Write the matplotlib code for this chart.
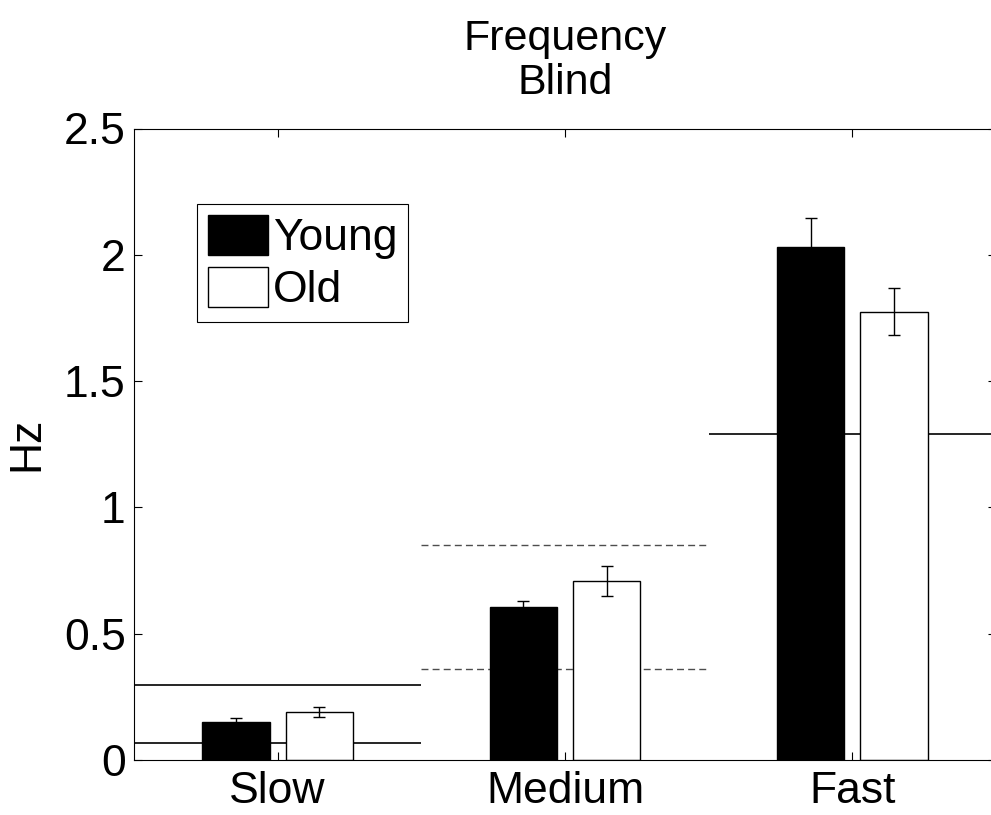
import numpy as np
import matplotlib
matplotlib.use("Agg")
import matplotlib.pyplot as plt

# dados
conditions = ["Slow", "Medium", "Fast"]
young_mean = [0.150, 0.606, 2.031]
young_err = [0.016, 0.023, 0.115]
old_mean = [0.190, 0.709, 1.774]
old_err = [0.020, 0.060, 0.093]
# faixas de referência por condição (limite inferior, limite superior)
band_low = [0.067, 0.360, 1.291]
band_high = [0.297, 0.851, None]

yticks = [0, 0.5, 1, 1.5, 2, 2.5]
ytick_labels = ["0", "0.5", "1", "1.5", "2", "2.5"]

plt.rcParams['font.family'] = ['Liberation Sans', 'DejaVu Sans']

fig = plt.figure(figsize=(9.91, 8.15), dpi=100)
ax = fig.add_axes([134 / 991, 1 - 760 / 815, 862 / 991, 631.5 / 815])

x = np.arange(1, len(conditions) + 1)
largura = 0.234
desloc = 0.145

# faixas horizontais atrás das barras
for i, xc in enumerate(x):
    estilo = dict(color='black', lw=1.2, zorder=1)
    if i == 1:
        estilo = dict(color='0.3', lw=1.0, ls=(0, (5, 3)), zorder=1)
    ax.hlines(band_low[i], xc - 0.5, xc + 0.5, **estilo)
    if band_high[i] is not None:
        ax.hlines(band_high[i], xc - 0.5, xc + 0.5, **estilo)

ax.bar(x - desloc, young_mean, largura, color='black', edgecolor='black',
       linewidth=1, label='Young', zorder=2)
ax.bar(x + desloc, old_mean, largura, color='white', edgecolor='black',
       linewidth=1, label='Old', zorder=2)
ax.errorbar(x - desloc, young_mean, yerr=young_err, fmt='none', ecolor='black',
            elinewidth=1, capsize=4, capthick=1, zorder=3)
ax.errorbar(x + desloc, old_mean, yerr=old_err, fmt='none', ecolor='black',
            elinewidth=1, capsize=4, capthick=1, zorder=3)

ax.set_xlim(0.5, 3.5)
ax.set_ylim(0, 2.5)
ax.set_xticks(x)
ax.set_xticklabels(conditions, fontsize=32)
ax.set_yticks(yticks)
ax.set_yticklabels(ytick_labels, fontsize=32)
ax.tick_params(axis='both', direction='in', top=True, right=True,
               length=5.5, width=0.8, color='black')
ax.tick_params(axis='x', pad=8)
ax.tick_params(axis='y', pad=6)
for s in ax.spines.values():
    s.set_linewidth(0.8)
    s.set_color('black')

ax.set_ylabel('Hz', fontsize=32)
ax.yaxis.set_label_coords((47 - 134) / 862, 0.5)

ax.set_title('Frequency\nBlind', fontsize=31, linespacing=1.12, pad=25)

leg = ax.legend(loc='upper left', bbox_to_anchor=(0.073, 0.880),
                borderaxespad=0, fontsize=32, frameon=True, fancybox=False,
                framealpha=1, edgecolor='black', borderpad=0.24,
                handlelength=1.35, handleheight=1.0, handletextpad=0.12,
                labelspacing=0.18)
leg.get_frame().set_linewidth(0.8)

fig.savefig('out.png', dpi=100)
